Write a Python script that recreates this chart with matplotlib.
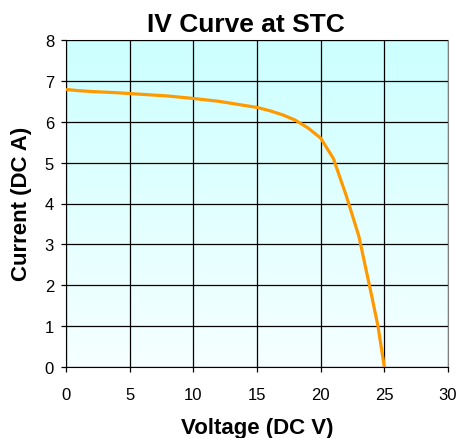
import numpy as np
import matplotlib
matplotlib.use("Agg")
import matplotlib.pyplot as plt
from matplotlib.colors import LinearSegmentedColormap

plt.rcParams['font.family'] = ['Liberation Sans', 'DejaVu Sans']

voltage = [0, 1, 2, 4, 5, 6, 8, 10, 12, 14, 15, 16, 17, 18, 19, 20, 21, 22, 23, 24, 24.5, 25]
current = [6.79, 6.76, 6.74, 6.71, 6.69, 6.67, 6.63, 6.57, 6.50, 6.40, 6.35, 6.27, 6.17, 6.04, 5.85, 5.60, 5.10, 4.20, 3.20, 1.75, 1.00, 0.0]
x_ticks = [0, 5, 10, 15, 20, 25, 30]
y_ticks = [0, 1, 2, 3, 4, 5, 6, 7, 8]

W, H = 459, 439
fig = plt.figure(figsize=(W/100, H/100), dpi=100)
ax = fig.add_axes([66/W, 1-368/H, (448-66)/W, (368-41)/H])

cmap = LinearSegmentedColormap.from_list('bg', ['#f6ffff', '#ccffff'])
grad = np.linspace(0, 1, 256).reshape(-1, 1)
ax.imshow(grad, extent=[0, 30, 0, 8], origin='lower', aspect='auto', cmap=cmap, zorder=0)

ax.set_xlim(0, 30)
ax.set_ylim(0, 8)
ax.set_xticks(x_ticks)
ax.set_yticks(y_ticks)
ax.grid(True, color='black', linewidth=0.9, zorder=1)
ax.set_axisbelow(False)
ax.plot(voltage, current, color='#FF9900', linewidth=2.3, zorder=3, solid_capstyle='butt')

for s in ['top', 'right']:
    ax.spines[s].set_color('#808080')
for s in ['left', 'bottom']:
    ax.spines[s].set_color('black')
ax.tick_params(direction='out', length=3.6, width=0.9, labelsize=12, colors='black')
ax.tick_params(axis='x', pad=10.5)
ax.tick_params(axis='y', pad=5)

fig.text(257/W, 1-434/H, 'Voltage (DC V)', fontsize=16, fontweight='bold', ha='center', va='baseline')
fig.text(22/W, 1-204/H, 'Current (DC A)', fontsize=16, fontweight='bold', ha='center', va='center', rotation=90)
fig.text(246/W, 1-31.5/H, 'IV Curve at STC', fontsize=19, fontweight='bold', ha='center', va='baseline')

fig.savefig('out.png', dpi=100)
